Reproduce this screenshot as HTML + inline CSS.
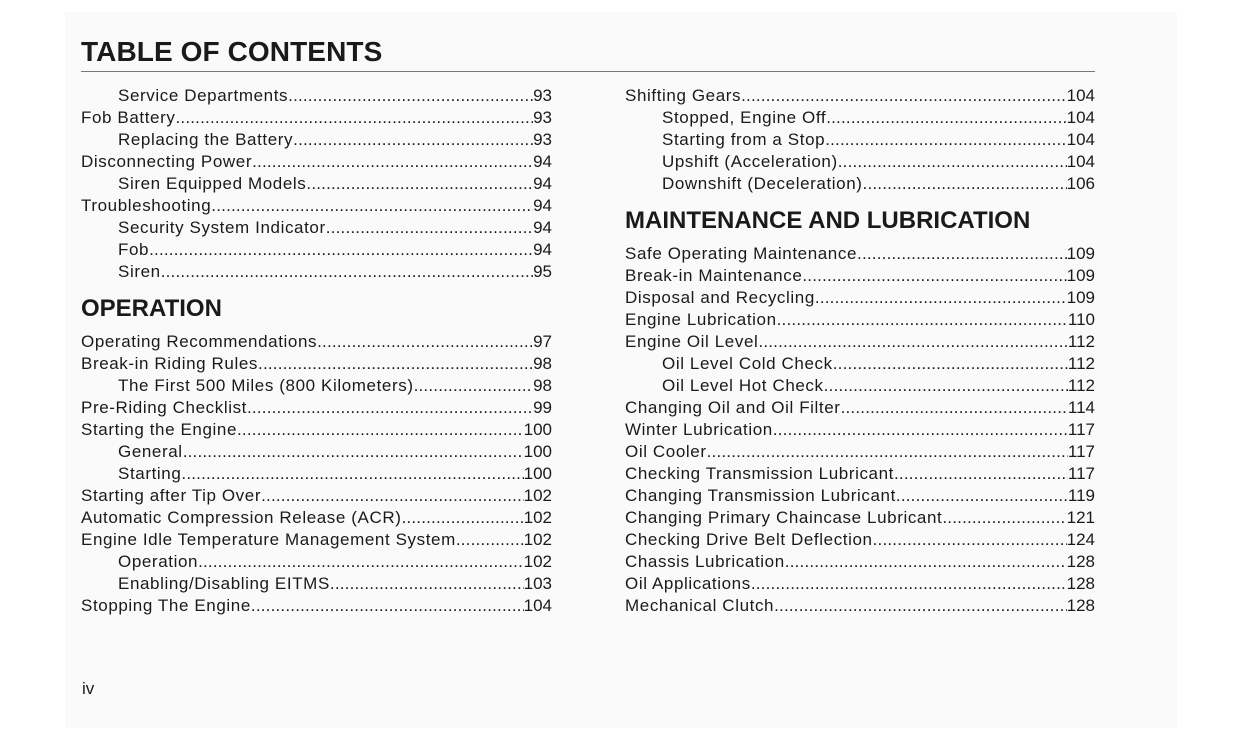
<!DOCTYPE html>
<html><head><meta charset="utf-8"><style>
body{margin:0;width:1241px;height:750px;background:#fff;position:relative;overflow:hidden;font-family:"Liberation Sans",Arial,sans-serif;color:#1a1a1a}
.pg{position:absolute;left:65px;top:12px;width:1112px;height:716px;background:#fafafa}
.title{position:absolute;left:81px;top:36px;font-size:28px;font-weight:bold;letter-spacing:0.1px}
.rule{position:absolute;left:81px;top:71px;width:1014px;height:1px;background:#777}
.h{position:absolute;font-size:24px;font-weight:bold;line-height:28px}
.r{position:absolute;display:flex;height:22px;line-height:22px;font-size:17px;white-space:nowrap}
.r .t{letter-spacing:0.6px}
.r .d{flex:1;overflow:hidden;letter-spacing:0.2px}
.r .d::before{content:"................................................................................................................................................................................................"}
.iv{position:absolute;left:82px;top:679px;font-size:17px}
</style></head><body>
<div class="pg"></div>
<div class="title">TABLE OF CONTENTS</div>
<div class="rule"></div>
<div class="iv">iv</div>
<script>
function row(x,right,y,t,p){var d=document.createElement('div');d.className='r';d.style.left=x+'px';d.style.width=(right-x)+'px';d.style.top=(y-10)+'px';d.innerHTML='<span class="t">'+t+'</span><span class="d"></span><span>'+p+'</span>';document.body.appendChild(d);}
function head(x,y,t){var d=document.createElement('div');d.className='h';d.style.left=x+'px';d.style.top=(y-14)+'px';d.textContent=t;document.body.appendChild(d);}
var L=[[1,"Service Departments","93"],[0,"Fob Battery","93"],[1,"Replacing the Battery","93"],[0,"Disconnecting Power","94"],[1,"Siren Equipped Models","94"],[0,"Troubleshooting","94"],[1,"Security System Indicator","94"],[1,"Fob","94"],[1,"Siren","95"]];
L.forEach(function(e,i){row(e[0]?118:81,552,95+22*i,e[1],e[2]);});
head(81,309,"OPERATION");
var L2=[[0,"Operating Recommendations","97"],[0,"Break-in Riding Rules","98"],[1,"The First 500 Miles (800 Kilometers)","98"],[0,"Pre-Riding Checklist","99"],[0,"Starting the Engine","100"],[1,"General","100"],[1,"Starting","100"],[0,"Starting after Tip Over","102"],[0,"Automatic Compression Release (ACR)","102"],[0,"Engine Idle Temperature Management System","102"],[1,"Operation","102"],[1,"Enabling/Disabling EITMS","103"],[0,"Stopping The Engine","104"]];
L2.forEach(function(e,i){row(e[0]?118:81,552,341+22*i,e[1],e[2]);});
var R=[[0,"Shifting Gears","104"],[1,"Stopped, Engine Off","104"],[1,"Starting from a Stop","104"],[1,"Upshift (Acceleration)","104"],[1,"Downshift (Deceleration)","106"]];
R.forEach(function(e,i){row(e[0]?662:625,1095,95+22*i,e[1],e[2]);});
head(625,221,"MAINTENANCE AND LUBRICATION");
var R2=[[0,"Safe Operating Maintenance","109"],[0,"Break-in Maintenance","109"],[0,"Disposal and Recycling","109"],[0,"Engine Lubrication","110"],[0,"Engine Oil Level","112"],[1,"Oil Level Cold Check","112"],[1,"Oil Level Hot Check","112"],[0,"Changing Oil and Oil Filter","114"],[0,"Winter Lubrication","117"],[0,"Oil Cooler","117"],[0,"Checking Transmission Lubricant","117"],[0,"Changing Transmission Lubricant","119"],[0,"Changing Primary Chaincase Lubricant","121"],[0,"Checking Drive Belt Deflection","124"],[0,"Chassis Lubrication","128"],[0,"Oil Applications","128"],[0,"Mechanical Clutch","128"]];
R2.forEach(function(e,i){row(e[0]?662:625,1095,253+22*i,e[1],e[2]);});
</script>
</body></html>
